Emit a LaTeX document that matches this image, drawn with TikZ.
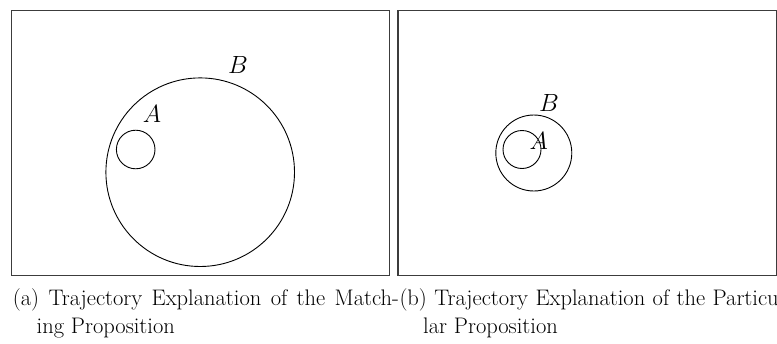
\documentclass[tikz,border=0pt]{standalone}
\usepackage{xcolor}
\usepackage{tikz}
\usetikzlibrary{positioning}
\definecolor{FrameGray}{RGB}{60, 60, 60}

\begin{document}
\begin{tikzpicture}[x=1pt, y=-1pt,
  panel/.style={draw=FrameGray, line width=1.2pt},
  setcircle/.style={draw=black, circle, line width=0.9pt, inner sep=0pt},
  lbl/.style={inner sep=0pt, font=\fontsize{26}{30}\selectfont},
  captext/.style={inner sep=0pt, anchor=base west, font=\fontsize{22.5}{27}\selectfont}
]
\useasboundingbox (0,0) rectangle (777,343);
\node[panel, inner sep=0pt, minimum width=378pt, minimum height=265pt, anchor=north west] (panela) at (11,10) {};
\node[panel, inner sep=0pt, minimum width=378.4pt, minimum height=264.7pt, anchor=north west] (panelb) at (397.3,10) {};
% left panel
\node[setcircle, minimum size=188.6pt] (bigB) at (200.2,172.2) {};
\node[setcircle, minimum size=38.6pt] (smallA) at (135.7,149.5) {};
\node[lbl] (labA) at (152,114) {$A$};
\node[lbl] (labB) at (238,64.5) {$B$};
% right panel
\node[setcircle, minimum size=76pt] (ringB) at (533.8,153) {};
\node[setcircle, minimum size=38pt] (ringA) at (522,149.5) {};
\node[lbl] (labB2) at (549,103) {$B$};
\node[lbl] (labA2) at (538.7,141) {$A$};
% captions
\node[captext] (capa) at (12.7,305.7) {\makebox[386pt][s]{(a) Trajectory Explanation of the Match-}};
\node[captext] (capa2) at (36.5,333) {ing Proposition};
\node[captext] (capb) at (399.3,305.7) {\makebox[386pt][s]{(b) Trajectory Explanation of the Particu-}};
\node[captext] (capb2) at (423,333) {lar Proposition};
\end{tikzpicture}
\end{document}
